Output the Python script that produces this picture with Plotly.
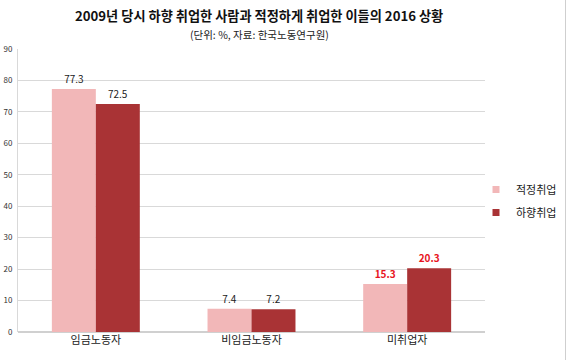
import plotly.graph_objects as go

categories = ["임금노동자", "비임금노동자", "미취업자"]
series_names = ["적정취업", "하향취업"]
proper_values = [77.3, 7.4, 15.3]
under_values = [72.5, 7.2, 20.3]
y_ticks = [0, 10, 20, 30, 40, 50, 60, 70, 80, 90]

title_text = "2009년 당시 하향 취업한 사람과 적정하게 취업한 이들의 2016 상황"
subtitle_text = "(단위: %, 자료: 한국노동연구원)"

FONT = "Noto Sans CJK KR, Malgun Gothic, sans-serif"
PINK = "#F2B7B8"
DARK = "#A93335"
LABEL_DARK = "#222222"
LABEL_RED = "#E8141E"


def label_texts(vals):
    out = []
    for i, v in enumerate(vals):
        s = f"{v:.1f}"
        out.append(f"<b>{s}</b>" if i == len(vals) - 1 else s)
    return out


def label_colors(vals):
    return [LABEL_RED if i == len(vals) - 1 else LABEL_DARK for i in range(len(vals))]


fig = go.Figure()
for name, vals, color in [(series_names[0], proper_values, PINK),
                          (series_names[1], under_values, DARK)]:
    fig.add_trace(go.Bar(
        x=categories, y=vals, name=name, showlegend=False,
        marker=dict(color=color, line=dict(width=0)),
        text=label_texts(vals), textposition="outside",
        textfont=dict(family=FONT, size=10, color=label_colors(vals)),
        cliponaxis=False,
    ))
    # legend entry with a small square marker, like the reference
    fig.add_trace(go.Scatter(
        x=[None], y=[None], name=name, mode="markers", legendgroup=name,
        marker=dict(symbol="square", size=7, color=color),
        showlegend=True,
    ))

W, H = 568, 360
L, T = 18, 49
R = W - 485
B = H - 332
pw = W - L - R
ph = H - T - B


def px_x(sx):
    return (sx - L) / pw


def px_y(sy):
    return (H - B - sy) / ph


fig.update_layout(
    width=W, height=H,
    margin=dict(l=L, r=R, t=T, b=B, autoexpand=False),
    paper_bgcolor="white", plot_bgcolor="white",
    barmode="group", bargap=0.435, bargroupgap=0,
    font=dict(family=FONT, color="#222222"),
    showlegend=True,
    legend=dict(x=px_x(476), y=px_y(201), xanchor="left", yanchor="middle",
                font=dict(size=11, family=FONT, color="#222222"),
                itemwidth=30, tracegroupgap=4, bgcolor="rgba(0,0,0,0)"),
    xaxis=dict(showgrid=False, showline=False, ticks="", automargin=False,
               tickfont=dict(size=11, family=FONT, color="#222222")),
    yaxis=dict(range=[0, 90], tickvals=y_ticks, showgrid=True, automargin=False,
               gridcolor="#D9D9D9", gridwidth=1,
               zeroline=True, zerolinecolor="#D0D0D0", zerolinewidth=2,
               showline=True, linecolor="#D9D9D9", linewidth=1,
               ticks="", ticklabelstandoff=3,
               tickfont=dict(size=8, family=FONT, color="#333333")),
    annotations=[
        dict(text="<b>" + title_text + "</b>", xref="paper", yref="paper",
             x=px_x(259), y=px_y(15), xanchor="center", yanchor="middle",
             showarrow=False, font=dict(size=13.2, family=FONT, color="#111111")),
        dict(text=subtitle_text, xref="paper", yref="paper",
             x=px_x(259), y=px_y(34), xanchor="center", yanchor="middle",
             showarrow=False, font=dict(size=10.5, family=FONT, color="#222222")),
    ],
    shapes=[dict(type="line", xref="paper", yref="paper",
                 x0=px_x(565.5), x1=px_x(565.5),
                 y0=px_y(360), y1=px_y(0),
                 line=dict(color="#CFCFCF", width=1))],
)

# remove the browser's default 8px body margin so the figure sits at the page corner
fig.write_html("out.html", config={"displayModeBar": False},
               post_script="document.body.style.margin='0';")
